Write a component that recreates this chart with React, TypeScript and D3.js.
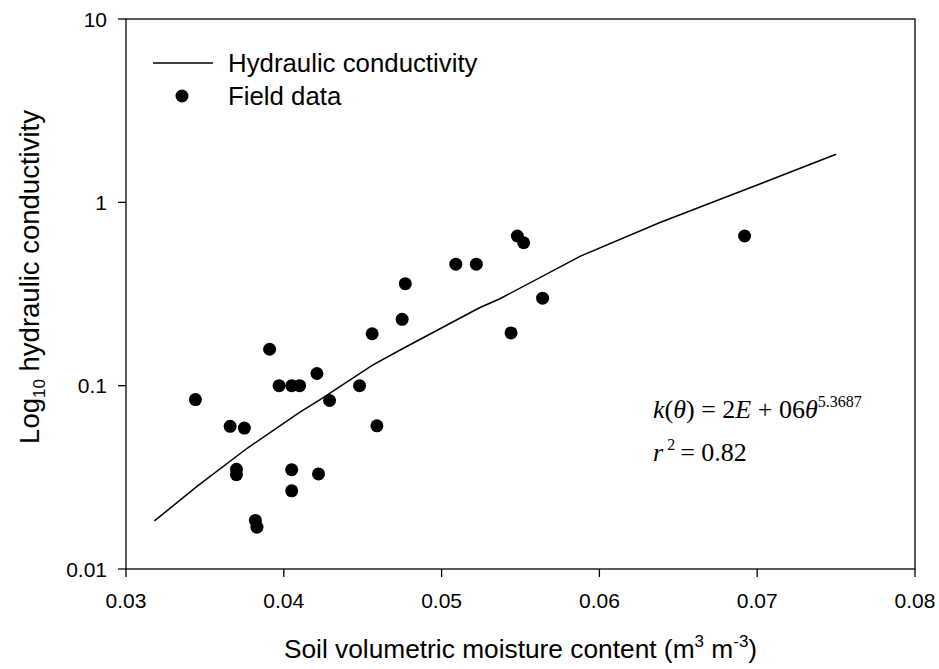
import * as d3 from "d3";

// field observations: soil moisture (m3 m-3) vs hydraulic conductivity
const fieldTheta = [
  0.0344, 0.0366, 0.0370, 0.0370, 0.0375, 0.0382, 0.0383, 0.0391, 0.0397,
  0.0405, 0.0405, 0.0405, 0.0410, 0.0421, 0.0422, 0.0429, 0.0448, 0.0456,
  0.0459, 0.0475, 0.0477, 0.0509, 0.0522, 0.0544, 0.0548, 0.0552, 0.0564,
  0.0692,
];
const fieldK = [
  0.084, 0.060, 0.035, 0.0327, 0.0587, 0.0184, 0.0169, 0.158, 0.100,
  0.100, 0.0348, 0.0267, 0.100, 0.1165, 0.033, 0.083, 0.100, 0.192,
  0.0604, 0.230, 0.360, 0.460, 0.460, 0.194, 0.655, 0.602, 0.300,
  0.655,
];

// fitted curve
const fitTheta = [
  0.0318, 0.0345, 0.0377, 0.0410, 0.0423, 0.0456, 0.0474, 0.0524, 0.0537,
  0.0588, 0.0638, 0.0693, 0.0750,
];
const fitK = [
  0.0183, 0.0282, 0.0457, 0.0715, 0.0838, 0.129, 0.157, 0.266, 0.298,
  0.509, 0.774, 1.178, 1.83,
];

const xTicks = [0.03, 0.04, 0.05, 0.06, 0.07, 0.08];
const yTicks = [0.01, 0.1, 1, 10];

const W = 939;
const H = 669;
const M = { top: 19, right: 24, bottom: 100, left: 126 };
const SANS = "'Liberation Sans', Arial, sans-serif";
const SERIF = "'Liberation Serif', 'Times New Roman', serif";

export default function App() {
  const x = d3.scaleLinear().domain([0.03, 0.08]).range([M.left, W - M.right]);
  const y = d3.scaleLog().domain([0.01, 10]).range([H - M.bottom, M.top]);

  const fitPts = fitTheta.map((t, i) => [t, fitK[i]] as [number, number]);
  const line = d3
    .line<[number, number]>()
    .x((d) => x(d[0]))
    .y((d) => y(d[1]));

  const x0 = M.left;
  const x1 = W - M.right;
  const y0 = H - M.bottom;
  const y1 = M.top;

  return (
    <svg
      width={W}
      height={H}
      style={{ position: "absolute", left: 0, top: 0, background: "#fff" }}
      fontFamily={SANS}
    >
      {/* frame */}
      <rect x={x0} y={y1} width={x1 - x0} height={y0 - y1} fill="none" stroke="#000" strokeWidth={1.3} />

      {/* y ticks */}
      {yTicks.map((t) => (
        <g key={t}>
          <line x1={x0 - 8} x2={x0} y1={y(t)} y2={y(t)} stroke="#000" strokeWidth={1.3} />
          <text x={x0 - 19} y={y(t)} dy="0.36em" textAnchor="end" fontSize={21}>
            {String(t)}
          </text>
        </g>
      ))}

      {/* x ticks */}
      {xTicks.map((t) => (
        <g key={t}>
          <line x1={x(t)} x2={x(t)} y1={y0} y2={y0 + 8} stroke="#000" strokeWidth={1.3} />
          <text x={x(t)} y={y0 + 39} textAnchor="middle" fontSize={21}>
            {t.toFixed(2)}
          </text>
        </g>
      ))}

      {/* fit line */}
      <path d={line(fitPts) ?? ""} fill="none" stroke="#000" strokeWidth={1.5} />

      {/* field points */}
      {fieldTheta.map((t, i) => (
        <circle key={i} cx={x(t)} cy={y(fieldK[i])} r={6.5} fill="#000" />
      ))}

      {/* legend */}
      <line x1={153} x2={213} y1={63} y2={63} stroke="#000" strokeWidth={1.5} />
      <text x={228} y={72} fontSize={25.8}>Hydraulic conductivity</text>
      <circle cx={182} cy={96} r={6.5} fill="#000" />
      <text x={228} y={105} fontSize={25.8}>Field data</text>

      {/* equation */}
      <text x={653} y={418} fontFamily={SERIF} fontSize={26}>
        <tspan fontStyle="italic">k</tspan>(<tspan fontStyle="italic">θ</tspan>) = 2
        <tspan fontStyle="italic">E</tspan> + 06<tspan fontStyle="italic">θ</tspan>
        <tspan fontSize={16} dy={-11}>5.3687</tspan>
      </text>
      <text x={653} y={461} fontFamily={SERIF} fontSize={26}>
        <tspan fontStyle="italic">r</tspan>
        <tspan fontSize={16} dy={-11} dx={4}>2</tspan>
        <tspan dy={11} dx={5}>= 0.82</tspan>
      </text>

      {/* axis titles */}
      <text
        transform={`translate(39,277) rotate(-90)`}
        textAnchor="middle"
        fontSize={27.5}
      >
        Log<tspan fontSize={17} dy={6}>10</tspan>
        <tspan dy={-6}> hydraulic conductivity</tspan>
      </text>
      <text x={(x0 + x1) / 2} y={658} textAnchor="middle" fontSize={26.3}>
        Soil volumetric moisture content (m<tspan fontSize={17} dy={-11}>3</tspan>
        <tspan dy={11}> m</tspan>
        <tspan fontSize={17} dy={-11}>-3</tspan>
        <tspan dy={11}>)</tspan>
      </text>
    </svg>
  );
}
